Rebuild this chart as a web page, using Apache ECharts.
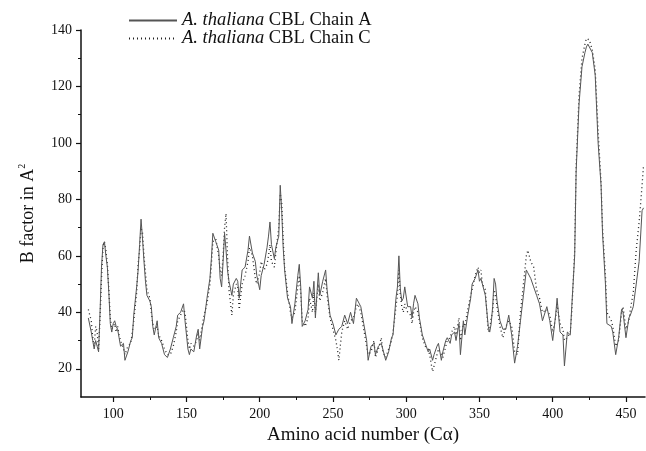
<!DOCTYPE html>
<html>
<head>
<meta charset="utf-8">
<script src="https://cdn.jsdelivr.net/npm/echarts@6/dist/echarts.min.js"></script>
<style>html,body{margin:0;padding:0;background:#fff}#c{width:646px;height:451px}</style>
</head>
<body>
<div id="c"></div>
<script>
var residues = [83,85,86,87,88,89,90,91,92,93,94,95,96,97,98,99,100,101,102,103,104,105,107,108,110,112,113,114,116,117,118,119,120,121,122,123,125,126,127,128,130,131,133,135,137,139,141,143,144,146,148,149,151,152,153,155,157,158,159,161,162,164,166,167,168,170,172,173,174,175,176,177,178,179,181,182,184,185,186,188,190,192,193,195,197,198,200,201,203,205,206,207,208,210,211,213,214,215,216,217,219,221,222,224,226,227,228,229,231,233,234,236,237,238,240,241,243,245,246,248,250,252,253,254,256,258,260,262,264,266,267,269,271,273,274,276,278,279,281,283,284,286,288,290,291,293,294,295,296,297,298,299,301,303,304,305,306,308,309,311,313,315,316,318,319,321,322,324,325,327,328,330,331,333,334,336,337,339,340,342,344,345,347,349,350,351,352,354,356,357,358,359,360,361,362,364,366,368,370,372,374,376,378,380,382,383,385,387,389,391,393,396,398,400,402,403,405,407,408,410,412,413,415,416,418,420,422,423,424,425,427,429,431,433,434,436,437,440,441,443,445,447,448,450,452,453,455,457,459,461,462];
var chainA = [38,33,30,27,30,28,26,40,56,64,65,60,56,47,36,33,36,37,35,34,31,28,29,23,26,30,31,39,49,55,64,73,66,58,51,46,44,42,35,32,37,31,29,25,24,27,31,35,39,40,43,37,27,25,27,26,32,34,27,35,37,45,52,59,68,65,62,52,49,58,68,62,55,51,46,50,52,51,45,55,56,62,67,61,58,53,48,53,57,63,67,72,64,59,63,67,85,76,63,55,45,42,36,43,53,57,49,35,37,41,49,45,51,38,54,46,51,55,48,39,36,32,33,34,35,39,36,40,36,45,45,42,36,30,23,28,29,25,28,29,27,23,26,31,32,45,49,60,48,44,45,49,42,42,38,43,46,43,38,32,29,26,27,23,25,28,29,23,26,30,31,29,32,33,30,36,25,37,32,39,45,50,52,55,51,52,52,46,35,33,36,42,52,50,44,37,34,34,39,32,22,28,37,46,55,54,52,49,46,43,37,42,37,30,39,45,33,32,21,33,32,42,60,90,114,127,132,134,135,134,132,124,100,85,68,50,36,35,33,25,31,41,40,31,38,39,42,50,58,76,77];
var chainC = [41,37,31,28,35,33,27,38,52,63,65,62,57,48,38,34,35,36,33,35,32,30,27,25,28,29,33,37,47,57,62,70,68,60,54,48,45,40,36,34,35,32,30,27,25,25,28,33,37,39,41,40,30,27,29,28,30,33,30,36,39,43,50,57,65,66,60,55,53,60,70,75,60,48,39,46,50,49,41,50,53,58,63,60,52,50,54,58,55,57,60,64,58,56,61,70,82,79,66,56,47,40,38,40,49,53,47,37,35,38,45,40,47,40,50,44,47,52,46,38,34,30,27,23,33,37,34,37,38,42,43,40,34,28,25,26,30,24,27,31,26,24,27,30,33,42,46,55,46,42,40,43,40,39,36,40,42,40,37,31,28,27,25,19,21,25,27,25,24,28,30,31,33,35,32,38,30,36,35,41,46,48,53,56,54,55,50,48,33,34,38,40,48,46,42,35,31,35,37,35,26,25,40,50,60,62,58,56,48,45,40,41,39,33,38,43,36,34,30,31,33,40,62,92,117,130,135,137,137.5,136.5,133,126,104,86,70,53,40,37,35,28,30,40,42,34,37,41,47,62,72,85,92];
var xLabelValues = [100,150,200,250,300,350,400,450];
var xMinorTicks = [125,175,225,275,325,375,425];
var yLabelValues = [20,40,60,80,100,120,140];
var yMinorTicks = [30,50,70,90,110,130];

var F = '"Liberation Serif", "Times New Roman", serif';
var chart = echarts.init(document.getElementById('c'), null, {renderer: 'canvas'});
function pairs(vals){ return residues.map(function(r,i){ return [r, vals[i]]; }); }
chart.setOption({
  animation: false,
  backgroundColor: '#fff',
  grid: {left: 81, right: 1, top: 30, bottom: 54, containLabel: false},
  legend: {
    orient: 'vertical', left: 128, top: 11, padding: 0, itemWidth: 48, itemHeight: 12, itemGap: -1,
    itemStyle: {opacity: 0},
    data: ['Chain A', 'Chain C'],
    formatter: function(n){ return '{i|A. thaliana} CBL ' + n; },
    textStyle: {fontFamily: F, fontSize: 18.5, color: '#111',
      rich: {i: {fontFamily: F, fontStyle: 'italic', fontSize: 18.5, color: '#111'}}}
  },
  xAxis: [{
    type: 'value', min: 78, max: 463, position: 'bottom',
    name: 'Amino acid number (C\u03b1)', nameLocation: 'middle', nameGap: 27,
    nameTextStyle: {fontFamily: F, fontSize: 19, color: '#111'},
    axisLine: {show: true, lineStyle: {color: '#111', width: 1.5}},
    axisTick: {show: true, inside: false, length: 5, customValues: xLabelValues, lineStyle: {color: '#111', width: 1.2}},
    axisLabel: {customValues: xLabelValues, margin: 10, fontFamily: F, fontSize: 14, color: '#111'},
    splitLine: {show: false}
  }, {
    type: 'value', min: 78, max: 463, position: 'bottom',
    axisLine: {show: false},
    axisTick: {show: true, inside: false, length: 3, customValues: xMinorTicks, lineStyle: {color: '#111', width: 1}},
    axisLabel: {show: false},
    splitLine: {show: false}
  }],
  yAxis: [{
    type: 'value', min: 10, max: 140, position: 'left',
    name: 'B factor in A{sup|2}', nameLocation: 'middle', nameGap: 42, nameRotate: 90,
    nameTextStyle: {fontFamily: F, fontSize: 18, color: '#111', lineHeight: 22,
      rich: {sup: {fontFamily: F, fontSize: 10, verticalAlign: 'top', lineHeight: 22, padding: [0,0,10,0]}}},
    axisLine: {show: true, lineStyle: {color: '#111', width: 1.5}},
    axisTick: {show: true, inside: false, length: 5, customValues: yLabelValues, lineStyle: {color: '#111', width: 1.2}},
    axisLabel: {customValues: yLabelValues, margin: 9, fontFamily: F, fontSize: 14, color: '#111'},
    splitLine: {show: false}
  }, {
    type: 'value', min: 10, max: 140, position: 'left',
    axisLine: {show: false},
    axisTick: {show: true, inside: false, length: 3, customValues: yMinorTicks, lineStyle: {color: '#111', width: 1}},
    axisLabel: {show: false},
    splitLine: {show: false}
  }],
  series: [{
    name: 'Chain A', type: 'line', xAxisIndex: 0, yAxisIndex: 0, symbol: 'none',
    data: pairs(chainA), lineStyle: {color: '#555', width: 1, type: 'solid'}, itemStyle: {color: '#555'}, z: 3
  }, {
    name: 'Chain C', type: 'line', xAxisIndex: 0, yAxisIndex: 0, symbol: 'none',
    data: pairs(chainC), lineStyle: {color: '#222', width: 1.3, type: [1, 3]}, itemStyle: {color: '#222'}, z: 2
  }]
});
</script>
</body>
</html>
